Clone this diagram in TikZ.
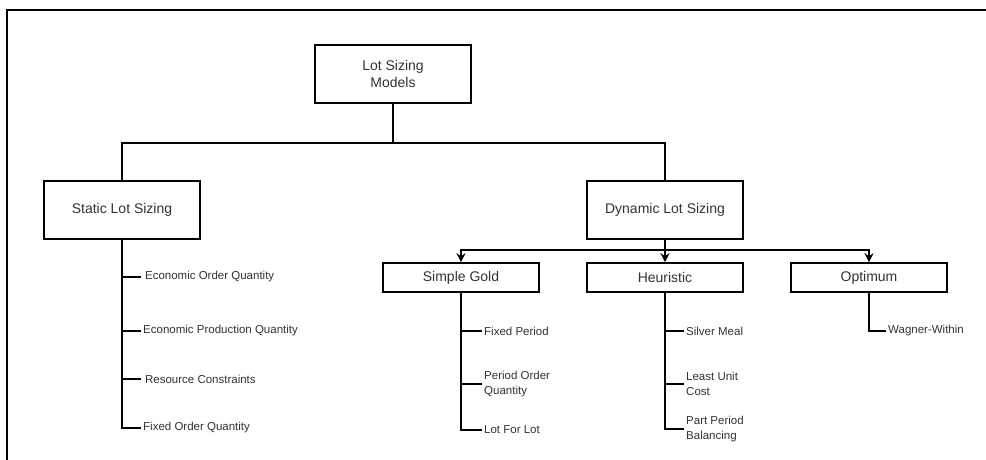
\documentclass[tikz,border=0pt]{standalone}
\usepackage{fontspec}
\setmainfont{Liberation Sans}
\usetikzlibrary{arrows.meta}
\definecolor{txt}{HTML}{333333}
\begin{document}
\begin{tikzpicture}[x=1pt,y=-1pt,
  box/.style={draw=black,line width=1.6pt,fill=white,minimum width=156pt,text=txt,font=\fontsize{14}{17}\selectfont,align=center,inner sep=0pt},
  bigbox/.style={box,minimum height=58pt},
  smallbox/.style={box,minimum height=29pt},
  leaf/.style={anchor=west,text=txt,font=\fontsize{11.5}{15}\selectfont,align=left,inner xsep=2pt,inner ysep=0pt},
  conn/.style={line width=1.6pt,draw=black},
  arr/.style={conn,-{Stealth[length=9pt,width=9pt,inset=3pt]}}]
\useasboundingbox (0,0) rectangle (986,459);
\fill[white] (0,0) rectangle (986,459);
\draw[line width=1.2pt] (7,470) -- (7,10) -- (995,10);

\node[bigbox] (root) at (393,74) {Lot Sizing\\Models};
\node[bigbox] (static) at (122,210) {Static Lot Sizing};
\node[bigbox] (dyn) at (665,210) {Dynamic Lot Sizing};
\node[smallbox] (sg) at (461,277.5) {Simple Gold};
\node[smallbox] (heur) at (665,277.5) {Heuristic};
\node[smallbox] (opt) at (869,277.5) {Optimum};

% static leaves
\node[leaf] (eoq) at (141,277) {\,Economic Order Quantity};
\node[leaf] (epq) at (141,331) {Economic Production Quantity};
\node[leaf] (rc) at (141,379) {\,Resource Constraints};
\node[leaf] (foq) at (141,428) {Fixed Order Quantity};
% simple gold leaves
\node[leaf] (fp) at (482,331) {Fixed Period};
\node[leaf] (poq) at (482,384) {Period Order\\Quantity};
\node[leaf] (lfl) at (482,430) {Lot For Lot};
% heuristic leaves
\node[leaf] (sm) at (684,331) {Silver Meal};
\node[leaf] (luc) at (684,384) {Least Unit\\Cost};
\node[leaf] (ppb) at (684,429) {Part Period\\Balancing};
% optimum leaf
\node[leaf] (ww) at (886,331) {Wagner-Within};

% top level
\draw[conn] (root.south) -- ++(0,39) -| (static.north);
\draw[conn] (root.south) -- ++(0,39) -| (dyn.north);
% dynamic to children
\draw[arr] (dyn.south) -- ++(0,10) -| (sg.north);
\draw[arr] (dyn.south) -- (heur.north);
\draw[arr] (dyn.south) -- ++(0,10) -| (opt.north);
% static leaves
\foreach \n in {eoq,epq,rc,foq} \draw[conn] (static.south) |- (\n.west);
\foreach \n in {fp,poq,lfl} \draw[conn] (sg.south) |- (\n.west);
\foreach \n in {sm,luc,ppb} \draw[conn] (heur.south) |- (\n.west);
\draw[conn] (opt.south) |- (ww.west);
\end{tikzpicture}
\end{document}
